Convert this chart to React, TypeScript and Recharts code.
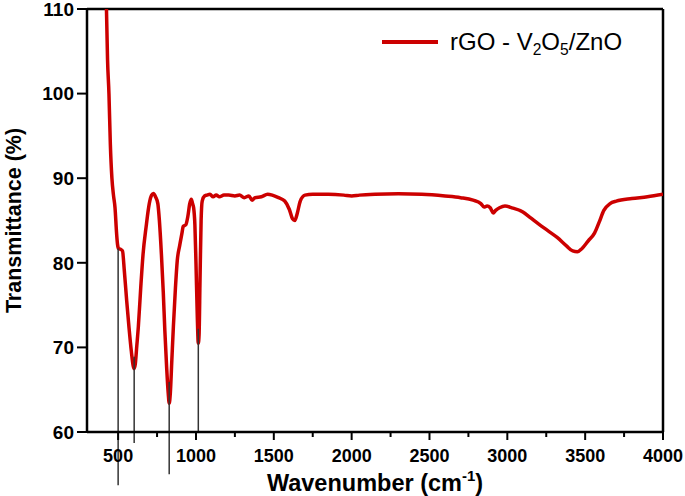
import { LineChart, Line, XAxis, YAxis, ReferenceLine, Legend } from "recharts";

const wavenumber = [
  425, 432, 441, 450, 460, 470, 480, 490, 496, 502, 515, 528, 540, 555, 570,
  585, 597, 603, 610, 620, 630, 645, 660, 680, 700, 715, 727, 740, 755, 765,
  778, 790, 800, 812, 822, 828, 835, 845, 855, 868, 880, 895, 910, 918, 935,
  948, 960, 970, 978, 985, 993, 1000, 1008, 1015, 1020, 1026, 1033, 1040, 1055,
  1070, 1090, 1110, 1130, 1150, 1180, 1210, 1250, 1280, 1310, 1340, 1360, 1380,
  1420, 1460, 1490, 1530, 1570, 1600, 1620, 1635, 1650, 1670, 1700, 1750, 1850,
  1950, 2000, 2050, 2150, 2300, 2450, 2600, 2700, 2780, 2830, 2850, 2870, 2890,
  2910, 2925, 2950, 2985, 3030, 3100, 3150, 3200, 3260, 3320, 3380, 3420, 3450,
  3480, 3520, 3560, 3590, 3620, 3660, 3700, 3800, 3900, 4000,
];
const transmittance = [
  110, 104, 100, 94, 90, 88, 86.5, 83.5, 82.2, 81.7, 81.6, 81.4, 79, 75.5, 72.3,
  69.5, 67.8, 67.5, 68, 70.2, 72.5, 77, 81, 84.3, 87, 88, 88.2, 87.8, 87, 85,
  81, 76.5, 72, 67.5, 64.5, 63.4, 64.5, 68.5, 72.5, 77, 80.3, 82, 83.5, 84.3, 84.5,
  85.5, 87, 87.5, 87, 86.5, 84.5, 80, 74, 70.5, 71.5, 78, 85, 87.3, 87.9,
  88, 88.1, 87.8, 88, 87.8, 88, 88, 87.9, 88, 87.7, 87.9, 87.4, 87.7,
  87.8, 88.1, 88, 87.7, 87.3, 86.3, 85.2, 85, 85.8, 87.3, 88, 88.1, 88.1,
  88, 87.9, 88, 88.1, 88.15, 88.1, 87.9, 87.7, 87.4, 87, 86.6, 86.7, 86.5,
  85.9, 86.2, 86.5, 86.7, 86.5, 86, 85.3, 84.6, 83.8, 83, 82, 81.4, 81.3,
  81.7, 82.6, 83.5, 84.8, 86.2, 87, 87.3, 87.6, 87.8, 88.1,
];

const xTicks = [500, 750, 1000, 1250, 1500, 1750, 2000, 2250, 2500, 2750, 3000, 3250, 3500, 3750, 4000];
const yTicks = [60, 70, 80, 90, 100, 110];

// drop lines marking the band positions
const markerPos = [500, 603, 828, 1015];
const markerTop = [81.7, 68.9, 65.9, 72.2];
const markerBottom = [53.7, 58.7, 55.0, 59.9];

const data = wavenumber.map((w, i) => ({ w, t: transmittance[i] }));

const FONT = 'Arial, "Liberation Sans", sans-serif';
const RED = "#cc0000";

const XTick = (props: any) => {
  const { x, y, payload } = props;
  const major = payload.value % 500 === 0;
  return (
    <g>
      <line x1={x} x2={x} y1={y} y2={y + (major ? 8 : 5)} stroke="#000" strokeWidth={2} />
      {major && (
        <text x={x} y={y + 30} textAnchor="middle" fontSize={18} fontWeight="bold" fontFamily={FONT} fill="#000">
          {payload.value}
        </text>
      )}
    </g>
  );
};

const XTitle = (props: any) => {
  const { viewBox } = props;
  return (
    <text x={viewBox.x + viewBox.width / 2} y={viewBox.y + 59} textAnchor="middle" fontSize={23.5} fontWeight="bold" fontFamily={FONT} fill="#000">
      Wavenumber (cm<tspan dy={-10} fontSize={15}>-1</tspan><tspan dy={10}>)</tspan>
    </text>
  );
};

const YTitle = (props: any) => {
  const { viewBox } = props;
  const cy = viewBox.y + viewBox.height / 2;
  return (
    <text x={14} y={cy} transform={`rotate(-90, 14, ${cy})`} textAnchor="middle" dominantBaseline="central" fontSize={21.5} fontWeight="bold" fontFamily={FONT} fill="#000">
      Transmittance (%)
    </text>
  );
};

const subStyle = { fontSize: "0.65em", verticalAlign: "-0.3em", lineHeight: 0 };

const renderLegend = () => (
  <div style={{ display: "flex", alignItems: "center", fontFamily: FONT, fontSize: 24, color: "#000", whiteSpace: "nowrap" }}>
    <svg width={56} height={6}>
      <line x1={0} x2={56} y1={3} y2={3} stroke={RED} strokeWidth={4} />
    </svg>
    <span style={{ marginLeft: 12 }}>
      rGO - V<sub style={subStyle}>2</sub>O<sub style={subStyle}>5</sub>/ZnO
    </span>
  </div>
);

export default function App() {
  return (
    <div style={{ position: "absolute", left: 0, top: 0, width: 685, height: 496, background: "#fff" }}>
      <LineChart width={685} height={496} data={data} margin={{ top: 9, right: 22, bottom: 0, left: 0 }}>
        <XAxis
          dataKey="w"
          type="number"
          domain={[300, 4000]}
          ticks={xTicks}
          interval={0}
          height={64}
          tickSize={0}
          tickMargin={0}
          tick={<XTick />}
          tickLine={false}
          axisLine={{ stroke: "#000", strokeWidth: 2.5 }}
          label={<XTitle />}
          allowDataOverflow
        />
        <YAxis
          type="number"
          domain={[60, 110]}
          ticks={yTicks}
          interval={0}
          width={87}
          tickSize={10}
          tickMargin={3}
          tick={{ fontSize: 19, fontWeight: "bold", fontFamily: FONT, fill: "#000" }}
          tickLine={{ stroke: "#000", strokeWidth: 2 }}
          axisLine={{ stroke: "#000", strokeWidth: 2.5 }}
          label={<YTitle />}
          allowDataOverflow
        />
        <ReferenceLine y={110} stroke="#000" strokeWidth={2.5} ifOverflow="visible" />
        <ReferenceLine x={4000} stroke="#000" strokeWidth={2.5} ifOverflow="visible" />
        <Legend
          layout="vertical"
          align="center"
          verticalAlign="middle"
          content={renderLegend}
          wrapperStyle={{ left: 382, top: 28, width: 290 }}
        />
        <Line
          dataKey="t"
          name="rGO - V2O5/ZnO"
          type="monotone"
          stroke={RED}
          strokeWidth={3.5}
          dot={false}
          isAnimationActive={false}
        />
        {markerPos.map((p, i) => (
          <ReferenceLine
            key={p}
            segment={[
              { x: p, y: markerTop[i] },
              { x: p, y: markerBottom[i] },
            ]}
            stroke="#333"
            strokeWidth={1.5}
            ifOverflow="visible"
          />
        ))}
      </LineChart>
    </div>
  );
}
